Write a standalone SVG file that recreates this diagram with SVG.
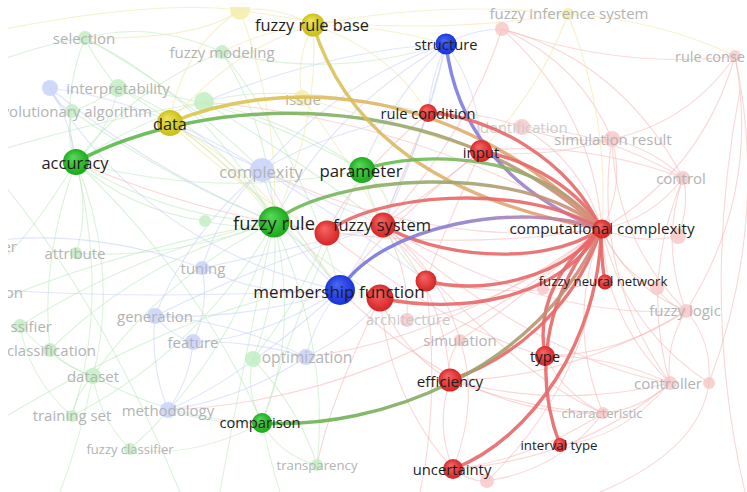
<svg xmlns="http://www.w3.org/2000/svg" width="747" height="492" viewBox="0 0 747 492">
<defs>
<clipPath id="frame"><rect x="8" y="7" width="745" height="490"/></clipPath>
<radialGradient id="nRed" cx="50%" cy="50%" r="55%" fx="38%" fy="30%"><stop offset="0" stop-color="#f46868"/><stop offset="1" stop-color="#d61f1f"/></radialGradient>
<radialGradient id="nGreen" cx="50%" cy="50%" r="55%" fx="38%" fy="30%"><stop offset="0" stop-color="#5ada5a"/><stop offset="1" stop-color="#15a515"/></radialGradient>
<radialGradient id="nBlue" cx="50%" cy="50%" r="55%" fx="38%" fy="30%"><stop offset="0" stop-color="#4a66f4"/><stop offset="1" stop-color="#1530d6"/></radialGradient>
<radialGradient id="nYellow" cx="50%" cy="50%" r="55%" fx="38%" fy="30%"><stop offset="0" stop-color="#ece45a"/><stop offset="1" stop-color="#c7bb12"/></radialGradient>
<linearGradient id="gAcc" gradientUnits="userSpaceOnUse" x1="76" y1="162" x2="601" y2="229"><stop offset="0" stop-color="#4fbb45"/><stop offset="0.55" stop-color="#8fae68"/><stop offset="1" stop-color="#d8857a"/></linearGradient>
<linearGradient id="gData" gradientUnits="userSpaceOnUse" x1="170" y1="123" x2="601" y2="229"><stop offset="0" stop-color="#dcc84a"/><stop offset="0.6" stop-color="#e2b070"/><stop offset="1" stop-color="#e2907a"/></linearGradient>
<linearGradient id="gFrb" gradientUnits="userSpaceOnUse" x1="313" y1="25" x2="601" y2="229"><stop offset="0" stop-color="#d8c650"/><stop offset="0.6" stop-color="#dfb070"/><stop offset="1" stop-color="#e49078"/></linearGradient>
<linearGradient id="gSt" gradientUnits="userSpaceOnUse" x1="446" y1="44" x2="601" y2="229"><stop offset="0" stop-color="#6f7ae6"/><stop offset="1" stop-color="#b884b8"/></linearGradient>
<linearGradient id="gP" gradientUnits="userSpaceOnUse" x1="362" y1="170" x2="601" y2="229"><stop offset="0" stop-color="#5cbf4e"/><stop offset="0.6" stop-color="#8cb268"/><stop offset="1" stop-color="#d88878"/></linearGradient>
<linearGradient id="gFr" gradientUnits="userSpaceOnUse" x1="274" y1="222" x2="601" y2="229"><stop offset="0" stop-color="#66bb52"/><stop offset="0.5" stop-color="#9aa86c"/><stop offset="1" stop-color="#d8887a"/></linearGradient>
<linearGradient id="gMf" gradientUnits="userSpaceOnUse" x1="340" y1="290" x2="601" y2="229"><stop offset="0" stop-color="#6a72e4"/><stop offset="0.6" stop-color="#9a82c8"/><stop offset="1" stop-color="#d8808a"/></linearGradient>
<linearGradient id="gCmp" gradientUnits="userSpaceOnUse" x1="262" y1="423" x2="601" y2="229"><stop offset="0" stop-color="#5cb84e"/><stop offset="0.55" stop-color="#9aa66a"/><stop offset="1" stop-color="#d88478"/></linearGradient>
</defs>
<style>
.fl{fill:none;stroke-width:1.1;opacity:.55}
.fr{stroke:#f4b6b6}
.fg{stroke:#bde7bd}
.fb{stroke:#c8d0f4}
.fy{stroke:#efe6a2}
.ml{fill:none;stroke-width:3.4;stroke-linecap:round;opacity:.9}
.red{stroke:#e86868}
.lb{font-family:"Open Sans","DejaVu Sans",sans-serif;text-anchor:middle;dominant-baseline:central;fill:#1e1e1e}
.lf{font-family:"Open Sans","DejaVu Sans",sans-serif;text-anchor:middle;dominant-baseline:central;fill:#b3b3b3;font-size:15px}
.cr{fill:url(#nRed)}
.cg{fill:url(#nGreen)}
.cb{fill:url(#nBlue)}
.cy{fill:url(#nYellow)}
.pr{fill:#f9c6c6;opacity:.8}
.pg{fill:#c2eec2;opacity:.85}
.pb{fill:#c9d2fa;opacity:.85}
.py{fill:#f4eda8;opacity:.85}
</style>
<rect width="747" height="492" fill="#ffffff"/>
<g clip-path="url(#frame)">
<g id="connectors-background">
<path class="fl fr" d="M602,229 Q625,186 612,139"/>
<path class="fl fr" d="M602,229 Q652,219 683,178"/>
<path class="fl fr" d="M602,229 Q628,287 686,311"/>
<path class="fl fr" d="M602,229 Q605,320 670,383"/>
<path class="fl fr" d="M602,229 Q565,321 603,413"/>
<path class="fl fr" d="M602,229 Q703,169 735,56"/>
<path class="fl fr" d="M602,229 Q592,109 502,29"/>
<path class="fl fr" d="M602,229 Q582,162 522,127"/>
<path class="fl fr" d="M602,229 Q640,245 678,236"/>
<path class="fl fr" d="M602,229 Q618,270 657,288"/>
<path class="fl fr" d="M602,229 Q624,327 709,383"/>
<path class="fl fr" d="M612,139 Q655,150 683,178"/>
<path class="fl fr" d="M612,139 Q615,240 686,311"/>
<path class="fl fr" d="M612,139 Q592,273 670,383"/>
<path class="fl fr" d="M612,139 Q565,145 522,127"/>
<path class="fl fr" d="M612,139 Q579,62 502,29"/>
<path class="fl fr" d="M612,139 Q690,122 735,56"/>
<path class="fl fr" d="M683,178 Q660,245 686,311"/>
<path class="fl fr" d="M683,178 Q640,280 670,383"/>
<path class="fl fr" d="M683,178 Q690,205 678,236"/>
<path class="fl fr" d="M686,311 Q665,345 670,383"/>
<path class="fl fr" d="M686,311 Q712,340 709,383"/>
<path class="fl fr" d="M670,383 Q640,410 603,413"/>
<path class="fl fr" d="M686,311 Q668,305 657,288"/>
<path class="fl fr" d="M735,56 Q761,193 686,311"/>
<path class="fl fr" d="M735,56 Q770,220 709,383"/>
<path class="fl fr" d="M502,29 Q625,70 735,56"/>
<path class="fl fr" d="M502,29 Q620,60 683,178"/>
<path class="fl fr" d="M522,127 Q600,130 683,178"/>
<path class="fl fr" d="M602,229 Q520,300 460,340"/>
<path class="fl fr" d="M602,229 Q500,310 407,320"/>
<path class="fl fr" d="M602,229 Q594,378 487,481"/>
<path class="fl fr" d="M545,356 Q565,395 603,413"/>
<path class="fl fr" d="M545,356 Q610,355 670,383"/>
<path class="fl fr" d="M450,380 Q445,360 460,340"/>
<path class="fl fr" d="M450,380 Q435,425 453,469"/>
<path class="fl fr" d="M450,380 Q530,410 603,413"/>
<path class="fl fr" d="M453,469 Q480,400 460,340"/>
<path class="fl fr" d="M453,469 Q470,482 487,481"/>
<path class="fl fr" d="M383,225 Q440,270 460,340"/>
<path class="fl fr" d="M383,225 Q410,270 407,320"/>
<path class="fl fr" d="M380,298 Q400,350 450,380"/>
<path class="fl fr" d="M380,298 Q390,400 453,469"/>
<path class="fl fr" d="M383,225 Q445,295 450,380"/>
<path class="fl fr" d="M383,225 Q540,360 670,383"/>
<path class="fl fr" d="M383,225 Q540,320 686,311"/>
<path class="fl fr" d="M327,233 Q450,330 545,356"/>
<path class="fl fr" d="M426,281 Q515,300 605,282"/>
<path class="fl fr" d="M383,225 Q470,130 502,29"/>
<path class="fl fr" d="M428,113 Q475,110 522,127"/>
<path class="fl fr" d="M481,151 Q545,160 612,139"/>
<path class="fl fr" d="M481,151 Q580,140 683,178"/>
<path class="fl fr" d="M383,225 Q520,380 603,413"/>
<path class="fl fr" d="M340,290 Q470,420 603,413"/>
<path class="fl fr" d="M450,380 Q570,380 686,311"/>
<path class="fl fr" d="M450,380 Q560,410 670,383"/>
<path class="fl fr" d="M453,469 Q580,460 670,383"/>
<path class="fl fr" d="M453,469 Q530,460 603,413"/>
<path class="fl fr" d="M560,445 Q620,440 670,383"/>
<path class="fl fr" d="M545,356 Q620,355 686,311"/>
<path class="fl fr" d="M487,481 Q560,470 603,413"/>
<path class="fl fr" d="M740,90 Q700,300 745,492"/>
<path class="fl fr" d="M709,383 Q700,450 600,492"/>
<path class="fl fr" d="M602,229 Q330,270 76,162"/>
<path class="fl fr" d="M602,229 Q430,250 262,170"/>
<path class="fl fr" d="M602,229 Q420,120 204,102"/>
<path class="fl fr" d="M602,229 Q450,340 306,357"/>
<path class="fl fr" d="M602,229 Q400,400 168,410"/>
<path class="fl fr" d="M380,298 Q330,400 317,465"/>
<path class="fl fr" d="M426,281 Q440,400 420,492"/>
<path class="fl fr" d="M428,113 Q400,180 383,225"/>
<path class="fl fr" d="M481,151 Q420,200 383,225"/>
<path class="fl fr" d="M481,151 Q440,240 426,281"/>
<path class="fl fr" d="M428,113 Q350,180 327,233"/>
<path class="fl fr" d="M481,151 Q380,230 340,290"/>
<path class="fl fg" d="M76,162 Q60,100 85,38"/>
<path class="fl fg" d="M76,162 Q110,130 118,88"/>
<path class="fl fg" d="M76,162 Q65,135 72,111"/>
<path class="fl fg" d="M76,162 Q90,210 76,253"/>
<path class="fl fg" d="M76,162 Q120,270 93,376"/>
<path class="fl fg" d="M76,162 Q40,260 50,350"/>
<path class="fl fg" d="M76,162 Q110,300 72,416"/>
<path class="fl fg" d="M76,162 Q170,220 274,222"/>
<path class="fl fg" d="M76,162 Q220,200 362,170"/>
<path class="fl fg" d="M76,162 Q130,210 205,221"/>
<path class="fl fg" d="M76,162 Q130,90 222,52"/>
<path class="fl fg" d="M76,162 Q200,280 262,423"/>
<path class="fl fg" d="M274,222 Q160,280 93,376"/>
<path class="fl fg" d="M274,222 Q140,260 50,350"/>
<path class="fl fg" d="M274,222 Q170,260 76,253"/>
<path class="fl fg" d="M274,222 Q140,250 20,326"/>
<path class="fl fg" d="M274,222 Q300,330 262,423"/>
<path class="fl fg" d="M274,222 Q280,290 253,359"/>
<path class="fl fg" d="M274,222 Q330,350 317,465"/>
<path class="fl fg" d="M274,222 Q230,360 130,449"/>
<path class="fl fg" d="M274,222 Q200,350 72,416"/>
<path class="fl fg" d="M274,222 Q220,130 118,88"/>
<path class="fl fg" d="M274,222 Q210,100 85,38"/>
<path class="fl fg" d="M274,222 Q270,130 222,52"/>
<path class="fl fg" d="M362,170 Q240,100 118,88"/>
<path class="fl fg" d="M362,170 Q290,120 204,102"/>
<path class="fl fg" d="M262,423 Q170,420 93,376"/>
<path class="fl fg" d="M262,423 Q280,455 317,465"/>
<path class="fl fg" d="M262,423 Q245,390 253,359"/>
<path class="fl fg" d="M93,376 Q70,370 50,350"/>
<path class="fl fg" d="M93,376 Q75,395 72,416"/>
<path class="fl fg" d="M93,376 Q100,420 130,449"/>
<path class="fl fg" d="M93,376 Q50,360 20,326"/>
<path class="fl fg" d="M72,416 Q30,380 20,326"/>
<path class="fl fg" d="M118,88 Q95,60 85,38"/>
<path class="fl fg" d="M118,88 Q92,105 72,111"/>
<path class="fl fg" d="M76,162 Q140,120 204,102"/>
<path class="fl fg" d="M274,222 Q240,230 205,221"/>
<path class="fl fg" d="M253,359 Q300,410 317,465"/>
<path class="fl fg" d="M130,449 Q190,460 262,423"/>
<path class="fl fg" d="M0,180 Q100,300 180,492"/>
<path class="fl fg" d="M0,300 Q120,250 274,222"/>
<path class="fl fg" d="M0,420 Q150,330 262,300"/>
<path class="fl fg" d="M274,222 Q240,380 220,492"/>
<path class="fl fg" d="M262,423 Q270,460 280,492"/>
<path class="fl fg" d="M93,376 Q80,440 60,492"/>
<path class="fl fg" d="M76,162 Q20,250 0,260"/>
<path class="fl fg" d="M362,170 Q300,300 262,423"/>
<path class="fl fg" d="M85,38 Q150,20 222,52"/>
<path class="fl fg" d="M204,102 Q300,160 383,225"/>
<path class="fl fg" d="M204,102 Q280,80 428,113"/>
<path class="fl fg" d="M118,88 Q230,150 340,290"/>
<path class="fl fg" d="M222,52 Q300,150 340,290"/>
<path class="fl fg" d="M222,52 Q330,80 446,44"/>
<path class="fl fg" d="M253,359 Q300,300 327,233"/>
<path class="fl fg" d="M274,222 Q320,260 380,298"/>
<path class="fl fg" d="M362,170 Q380,240 426,281"/>
<path class="fl fg" d="M362,170 Q400,200 383,225"/>
<path class="fl fg" d="M72,111 Q170,180 274,222"/>
<path class="fl fg" d="M85,38 Q180,90 262,170"/>
<path class="fl fg" d="M0,150 Q100,120 204,102"/>
<path class="fl fg" d="M0,60 Q60,40 85,38"/>
<path class="fl fb" d="M340,290 Q280,240 262,170"/>
<path class="fl fb" d="M340,290 Q270,300 202,268"/>
<path class="fl fb" d="M340,290 Q250,320 155,316"/>
<path class="fl fb" d="M340,290 Q260,340 193,342"/>
<path class="fl fb" d="M340,290 Q315,320 306,357"/>
<path class="fl fb" d="M340,290 Q240,380 168,410"/>
<path class="fl fb" d="M340,290 Q420,170 446,44"/>
<path class="fl fb" d="M446,44 Q340,80 262,170"/>
<path class="fl fb" d="M446,44 Q330,110 274,222"/>
<path class="fl fb" d="M446,44 Q390,100 362,170"/>
<path class="fl fb" d="M446,44 Q430,80 428,113"/>
<path class="fl fb" d="M446,44 Q420,150 383,225"/>
<path class="fl fb" d="M446,44 Q330,50 204,102"/>
<path class="fl fb" d="M262,170 Q190,230 155,316"/>
<path class="fl fb" d="M262,170 Q220,210 202,268"/>
<path class="fl fb" d="M262,170 Q150,100 50,88"/>
<path class="fl fb" d="M155,316 Q170,335 193,342"/>
<path class="fl fb" d="M155,316 Q150,365 168,410"/>
<path class="fl fb" d="M193,342 Q190,380 168,410"/>
<path class="fl fb" d="M306,357 Q240,400 168,410"/>
<path class="fl fb" d="M202,268 Q210,305 193,342"/>
<path class="fl fb" d="M50,88 Q55,105 72,111"/>
<path class="fl fb" d="M50,88 Q70,120 76,162"/>
<path class="fl fb" d="M340,290 Q150,250 50,88"/>
<path class="fl fb" d="M0,290 Q150,300 340,290"/>
<path class="fl fb" d="M193,342 Q250,340 306,357"/>
<path class="fl fb" d="M155,316 Q230,320 306,357"/>
<path class="fl fb" d="M168,410 Q215,425 262,423"/>
<path class="fl fb" d="M446,44 Q480,90 481,151"/>
<path class="fl fb" d="M446,44 Q470,30 502,29"/>
<path class="fl fb" d="M262,170 Q300,240 340,290"/>
<path class="fl fb" d="M0,240 Q100,230 202,268"/>
<path class="fl fb" d="M262,170 Q330,130 428,113"/>
<path class="fl fb" d="M262,170 Q320,200 383,225"/>
<path class="fl fb" d="M262,170 Q360,230 426,281"/>
<path class="fl fb" d="M202,268 Q290,250 383,225"/>
<path class="fl fb" d="M155,316 Q270,260 383,225"/>
<path class="fl fb" d="M306,357 Q360,330 380,298"/>
<path class="fl fb" d="M262,170 Q200,140 170,123"/>
<path class="fl fb" d="M50,88 Q150,170 274,222"/>
<path class="fl fy" d="M313,25 Q230,50 170,123"/>
<path class="fl fy" d="M313,25 Q295,60 302,98"/>
<path class="fl fy" d="M313,25 Q275,5 240,10"/>
<path class="fl fy" d="M313,25 Q440,0 568,14"/>
<path class="fl fy" d="M313,25 Q265,30 222,52"/>
<path class="fl fy" d="M313,25 Q320,120 274,222"/>
<path class="fl fy" d="M170,123 Q230,100 302,98"/>
<path class="fl fy" d="M170,123 Q180,50 240,10"/>
<path class="fl fy" d="M240,10 Q400,40 568,14"/>
<path class="fl fy" d="M568,14 Q540,90 481,151"/>
<path class="fl fy" d="M568,14 Q610,120 602,229"/>
<path class="fl fy" d="M313,25 Q390,50 428,113"/>
<path class="fl fy" d="M240,10 Q280,120 274,222"/>
<path class="fl fy" d="M170,123 Q230,160 274,222"/>
<path class="fl fy" d="M313,25 Q380,25 446,44"/>
<path class="fl fy" d="M302,98 Q480,100 602,229"/>
<path class="fl fy" d="M240,10 Q200,40 85,38"/>
<path class="fl fy" d="M568,14 Q660,20 735,56"/>
<path class="fl fy" d="M302,98 Q350,160 383,225"/>
<path class="fl fy" d="M302,98 Q380,120 481,151"/>
<path class="fl fy" d="M170,123 Q260,170 340,290"/>
<path class="fl fy" d="M170,123 Q250,200 327,233"/>
<path class="fl fy" d="M0,30 Q150,0 240,10"/>
</g>
<g id="node-y-top"><circle class="py" cx="240" cy="10" r="10"/></g>
<g id="node-selection"><circle class="pg" cx="85" cy="38" r="7"/><text class="lf" x="84" y="38">selection</text></g>
<g id="node-fuzzy-modeling"><circle class="pg" cx="222" cy="52" r="7"/><text class="lf" x="222" y="52">fuzzy modeling</text></g>
<g id="node-b-left"><circle class="pb" cx="50" cy="88" r="8"/></g>
<g id="node-interpretability"><circle class="pg" cx="118" cy="88" r="9"/><text class="lf" x="118" y="88">interpretability</text></g>
<g id="node-evolutionary"><circle class="pg" cx="72" cy="111" r="7"/><text class="lf" x="152" y="111" style="text-anchor:end">volutionary algorithm</text></g>
<g id="node-g-hidden"><circle class="pg" cx="204" cy="102" r="10"/></g>
<g id="node-issue"><circle class="py" cx="302" cy="98" r="8"/><text class="lf" x="303" y="99">issue</text></g>
<g id="node-complexity"><circle class="pb" cx="262" cy="170" r="12"/><text class="lf" x="261" y="171" style="font-size:16.5px">complexity</text></g>
<g id="node-g-small"><circle class="pg" cx="205" cy="221" r="6"/></g>
<g id="node-fis-red"><circle class="pr" cx="502" cy="29" r="7"/></g>
<g id="node-fuzzy-inference-system"><circle class="py" cx="568" cy="14" r="6"/><text class="lf" x="569" y="13">fuzzy inference system</text></g>
<g id="node-rule-consequent"><circle class="pr" cx="735" cy="56" r="6"/><text class="lf" x="675" y="56" style="text-anchor:start;font-size:14.5px">rule conse</text></g>
<g id="node-identification"><circle class="pr" cx="522" cy="127" r="8"/><text class="lf" x="522" y="127" style="fill:#cdcdcd">identification</text></g>
<g id="node-simulation-result"><circle class="pr" cx="612" cy="139" r="8"/><text class="lf" x="613" y="139">simulation result</text></g>
<g id="node-control"><circle class="pr" cx="683" cy="178" r="7"/><text class="lf" x="681" y="178">control</text></g>
<g id="node-r4"><circle class="pr" cx="678" cy="236" r="8"/></g>
<g id="node-r5"><circle class="pr" cx="657" cy="288" r="7"/></g>
<g id="node-r7"><circle class="pr" cx="543" cy="289" r="6"/></g>
<g id="node-fuzzy-logic"><circle class="pr" cx="686" cy="311" r="7"/><text class="lf" x="685" y="310">fuzzy logic</text></g>
<g id="node-controller"><circle class="pr" cx="670" cy="383" r="7"/><circle class="pr" cx="709" cy="383" r="6"/><text class="lf" x="668" y="383">controller</text></g>
<g id="node-characteristic"><circle class="pr" cx="603" cy="413" r="6"/><text class="lf" x="602" y="413" style="font-size:13px">characteristic</text></g>
<g id="node-simulation"><circle class="pr" cx="460" cy="340" r="6"/><text class="lf" x="460" y="340">simulation</text></g>
<g id="node-architecture"><circle class="pr" cx="407" cy="320" r="7"/><text class="lf" x="408" y="319" style="fill:#c8c8c8">architecture</text></g>
<g id="node-r6"><circle class="pr" cx="487" cy="481" r="7"/></g>
<g id="node-optimization"><circle class="pg" cx="253" cy="359" r="8"/><circle class="pb" cx="306" cy="357" r="8"/><text class="lf" x="307" y="357" style="font-size:15.5px">optimization</text></g>
<g id="node-tuning"><circle class="pb" cx="202" cy="268" r="7"/><text class="lf" x="203" y="268">tuning</text></g>
<g id="node-generation"><circle class="pb" cx="155" cy="316" r="8"/><text class="lf" x="155" y="316">generation</text></g>
<g id="node-feature"><circle class="pb" cx="193" cy="342" r="8"/><text class="lf" x="193" y="342">feature</text></g>
<g id="node-attribute"><circle class="pg" cx="76" cy="253" r="6"/><text class="lf" x="75" y="253">attribute</text></g>
<g id="node-left-er"><text class="lf" x="17" y="246" style="text-anchor:end">er</text></g>
<g id="node-left-on"><text class="lf" x="23" y="292" style="text-anchor:end">on</text></g>
<g id="node-classifier"><circle class="pg" cx="20" cy="326" r="7"/><text class="lf" x="52" y="326" style="text-anchor:end">ssifier</text></g>
<g id="node-classification"><circle class="pg" cx="50" cy="350" r="7"/><text class="lf" x="96" y="350" style="text-anchor:end">classification</text></g>
<g id="node-dataset"><circle class="pg" cx="93" cy="376" r="8"/><text class="lf" x="93" y="376">dataset</text></g>
<g id="node-training-set"><circle class="pg" cx="72" cy="416" r="6"/><text class="lf" x="72" y="415">training set</text></g>
<g id="node-methodology"><circle class="pb" cx="168" cy="410" r="8"/><text class="lf" x="168" y="410">methodology</text></g>
<g id="node-fuzzy-classifier"><circle class="pg" cx="130" cy="449" r="6"/><text class="lf" x="130" y="449" style="font-size:13px">fuzzy classifier</text></g>
<g id="node-transparency"><circle class="pg" cx="317" cy="465" r="6"/><text class="lf" x="317" y="465" style="font-size:13.2px">transparency</text></g>
<g id="connectors">
<path class="ml" stroke="url(#gAcc)" d="M76,162 C200,95 440,80 601,229"/>
<path class="ml" stroke="url(#gData)" d="M170,123 C270,80 450,75 601,229"/>
<path class="ml" stroke="url(#gFrb)" d="M313,25 C340,110 410,195 601,229"/>
<path class="ml" stroke="url(#gSt)" d="M446,44 C455,120 500,190 601,229"/>
<path class="ml red" d="M428,113 C490,115 570,160 601,229"/>
<path class="ml red" d="M481,151 C530,160 580,190 601,229"/>
<path class="ml" stroke="url(#gP)" d="M362,170 C420,150 540,150 601,229"/>
<path class="ml" stroke="url(#gFr)" d="M274,222 C330,175 520,160 601,229"/>
<path class="ml red" d="M327,233 C370,195 520,180 601,229"/>
<path class="ml red" d="M383,225 C430,255 540,270 601,229"/>
<path class="ml" stroke="url(#gMf)" d="M340,290 C380,225 520,200 601,229"/>
<path class="ml red" d="M426,281 C480,295 560,280 601,229"/>
<path class="ml red" d="M380,298 C460,315 560,300 601,229"/>
<path class="ml red" d="M605,282 C602,265 601,250 601,229"/>
<path class="ml red" d="M545,356 C535,300 565,260 601,229"/>
<path class="ml red" d="M560,445 C535,380 540,300 601,229"/>
<path class="ml red" d="M450,380 C510,360 575,310 601,229"/>
<path class="ml red" d="M453,469 C530,440 600,340 601,229"/>
<path class="ml" stroke="url(#gCmp)" d="M262,423 C380,430 540,370 601,229"/>
</g>
<g id="node-red-a"><circle class="cr" cx="327" cy="233" r="12.5"/></g>
<g id="node-red-b"><circle class="cr" cx="380" cy="298" r="13.5"/></g>
<g id="node-red-c"><circle class="cr" cx="426" cy="281" r="10.5"/></g>
<g id="node-fuzzy-rule-base"><circle class="cy" cx="313" cy="25" r="11.5"/><text class="lb" x="312" y="24" style="font-size:16.4px">fuzzy rule base</text></g>
<g id="node-structure"><circle class="cb" cx="446" cy="44" r="10.5"/><text class="lb" x="446" y="44" style="font-size:14.7px">structure</text></g>
<g id="node-data"><circle class="cy" cx="170" cy="123" r="13"/><text class="lb" x="170" y="124" style="font-size:16.3px">data</text></g>
<g id="node-accuracy"><circle class="cg" cx="76" cy="162" r="13"/><text class="lb" x="75" y="162" style="font-size:16.5px">accuracy</text></g>
<g id="node-rule-condition"><circle class="cr" cx="428" cy="113" r="9"/><text class="lb" x="428" y="113" style="font-size:14.7px">rule condition</text></g>
<g id="node-input"><circle class="cr" cx="481" cy="151" r="11"/><text class="lb" x="481" y="152" style="font-size:15px">input</text></g>
<g id="node-parameter"><circle class="cg" cx="362" cy="170" r="13"/><text class="lb" x="361" y="170" style="font-size:16.8px">parameter</text></g>
<g id="node-fuzzy-rule"><circle class="cg" cx="274" cy="222" r="15.5"/><text class="lb" x="274" y="222" style="font-size:18.3px">fuzzy rule</text></g>
<g id="node-fuzzy-system"><circle class="cr" cx="383" cy="225" r="12.5"/><text class="lb" x="382" y="224" style="font-size:16.5px">fuzzy system</text></g>
<g id="node-membership-function"><circle class="cb" cx="340" cy="290" r="15"/><text class="lb" x="339" y="291" style="font-size:17px">membership function</text></g>
<g id="node-computational-complexity"><circle class="cr" cx="602" cy="229" r="9.5"/><text class="lb" x="602" y="228" style="font-size:15.3px">computational complexity</text></g>
<g id="node-fuzzy-neural-network"><circle class="cr" cx="605" cy="282" r="7.5"/><text class="lb" x="603" y="281" style="font-size:13.2px">fuzzy neural network</text></g>
<g id="node-type"><circle class="cr" cx="545" cy="356" r="10"/><text class="lb" x="545" y="356" style="font-size:14.8px">type</text></g>
<g id="node-efficiency"><circle class="cr" cx="450" cy="380" r="11.5"/><text class="lb" x="450" y="381" style="font-size:15.2px">efficiency</text></g>
<g id="node-interval-type"><circle class="cr" cx="560" cy="445" r="7"/><text class="lb" x="559" y="445" style="font-size:13.3px">interval type</text></g>
<g id="node-uncertainty"><circle class="cr" cx="453" cy="469" r="10"/><text class="lb" x="452" y="469" style="font-size:14.8px">uncertainty</text></g>
<g id="node-comparison"><circle class="cg" cx="262" cy="423" r="10"/><text class="lb" x="260" y="422" style="font-size:14.7px">comparison</text></g>
</g>
</svg>
